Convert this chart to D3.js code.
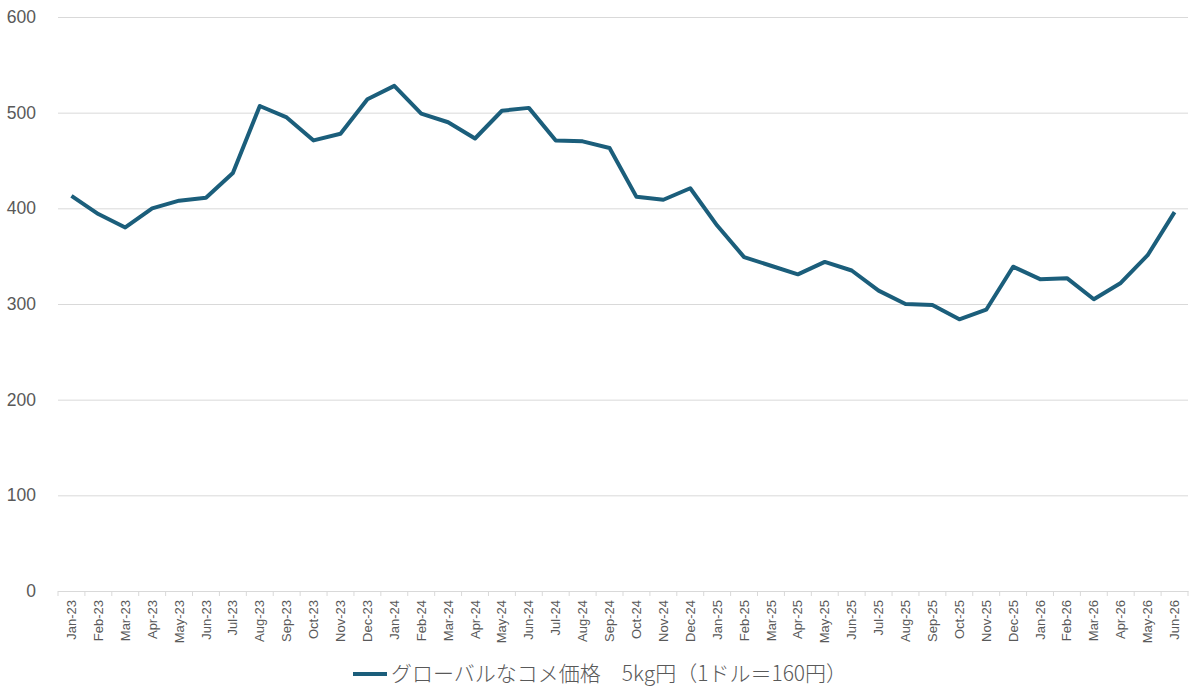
<!DOCTYPE html>
<html>
<head>
    <meta charset=utf-8>
    <title>Global rice price</title>
    <style>
        body { margin: 0; background: #fff; }
        svg { display: block; font-family: "Liberation Sans", Roboto, sans-serif; }
    </style>
</head>
<body>
<svg id=chart width=1192 height=690></svg>
<script src="https://cdn.jsdelivr.net/npm/d3@7"></script>
<script>
    // data
    var months = ['Jan-23', 'Feb-23', 'Mar-23', 'Apr-23', 'May-23', 'Jun-23', 'Jul-23', 'Aug-23', 'Sep-23', 'Oct-23', 'Nov-23', 'Dec-23',
        'Jan-24', 'Feb-24', 'Mar-24', 'Apr-24', 'May-24', 'Jun-24', 'Jul-24', 'Aug-24', 'Sep-24', 'Oct-24', 'Nov-24', 'Dec-24',
        'Jan-25', 'Feb-25', 'Mar-25', 'Apr-25', 'May-25', 'Jun-25', 'Jul-25', 'Aug-25', 'Sep-25', 'Oct-25', 'Nov-25', 'Dec-25',
        'Jan-26', 'Feb-26', 'Mar-26', 'Apr-26', 'May-26', 'Jun-26'];
    var prices = [413, 394, 380, 400, 408, 411, 437, 507, 495, 471, 478, 514,
        528, 499, 490, 473, 502, 505, 471, 470, 463, 412, 409, 421,
        382, 349, 340, 331, 344, 335, 314, 300, 299, 284, 294, 339,
        326, 327, 305, 322, 351, 396];
    var yTicks = [0, 100, 200, 300, 400, 500, 600];
    var seriesName = 'グローバルなコメ価格\u30005kg円（1ドル＝160円）';

    var margin = {top: 17, right: 4, bottom: 99, left: 58};
    var svg = d3.select('#chart');
    var width = svg.attr('width') - margin.left - margin.right;
    var height = svg.attr('height') - margin.top - margin.bottom;
    var g = svg.append('g')
        .attr('transform', 'translate(' + margin.left + ',' + margin.top + ')');

    var x = d3.scaleBand().domain(months).range([0, width]);
    var y = d3.scaleLinear().domain([0, 600]).range([height, 0]);

    //gridlines + y labels
    var yAxis = g.append('g')
        .call(d3.axisLeft(y).tickValues(yTicks).tickSize(-width).tickPadding(22));
    yAxis.select('.domain').remove();
    yAxis.selectAll('.tick line').attr('stroke', '#d9d9d9');
    yAxis.selectAll('.tick text')
        .attr('fill', '#595959')
        .style('font-size', '17.5px');

    //x axis, ticks between categories
    var xAxis = g.append('g')
        .attr('transform', 'translate(0,' + height + ')')
        .call(d3.axisBottom(x).tickSize(0).tickPadding(0));
    xAxis.select('.domain').attr('stroke', '#d9d9d9');
    xAxis.selectAll('.tick text')
        .attr('fill', '#595959')
        .style('font-size', '13px')
        .attr('text-anchor', 'end')
        .attr('transform', 'rotate(-90)')
        .attr('x', -9)
        .attr('y', 0)
        .attr('dy', '0.35em');
    xAxis.selectAll('.sep')
        .data(months.concat(['end']))
        .enter().append('line')
        .attr('class', 'sep')
        .attr('x1', (d, i) => i * x.step())
        .attr('x2', (d, i) => i * x.step())
        .attr('y1', 0).attr('y2', 5)
        .attr('stroke', '#d9d9d9');

    //price line
    var line = d3.line()
        .x((d, i) => x(months[i]) + x.bandwidth() / 2)
        .y(d => y(d));

    g.append('path')
        .datum(prices)
        .attr('fill', 'none')
        .attr('stroke', '#1b5e7b')
        .attr('stroke-width', 4)
        .attr('stroke-linejoin', 'round')
        .attr('d', line);

    //legend
    var legend = svg.append('g').attr('transform', 'translate(353,674)');
    legend.append('line')
        .attr('x1', 0).attr('x2', 34)
        .attr('stroke', '#1b5e7b')
        .attr('stroke-width', 4);
    legend.append('text')
        .attr('x', 38)
        .attr('dy', '0.35em')
        .attr('fill', '#595959')
        .style('font-family', '"Noto Sans CJK JP", sans-serif')
        .style('font-size', '21px')
        .style('font-weight', 300)
        .text(seriesName);
</script>
</body>
</html>
